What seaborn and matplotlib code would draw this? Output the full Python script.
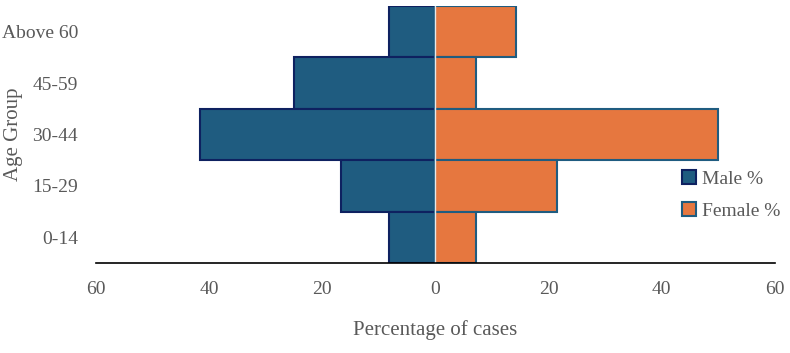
import pandas as pd
import numpy as np
import matplotlib.pyplot as plt
import seaborn as sns
from matplotlib.patches import Patch

sns.set_style('white')
plt.rcParams['font.family'] = ['Liberation Serif', 'DejaVu Serif']

# 연령대별 남녀 비율 데이터
age_groups = ['Above 60', '45-59', '30-44', '15-29', '0-14']
male_pct = [8.3, 25.0, 41.7, 16.7, 8.3]
female_pct = [14.3, 7.1, 50.0, 21.4, 7.1]

male_color = '#1F5C80'
male_edge = '#0E2160'
female_color = '#E6773F'
female_edge = '#1F5C80'
text_color = '#595959'

df = pd.DataFrame({'age': age_groups,
                   'male': [-v for v in male_pct],   # 남자는 왼쪽으로
                   'female': female_pct})

fig = plt.figure(figsize=(7.9, 3.53), dpi=100)
ax = fig.add_axes([0.1215, 0.255, 0.8595, 0.728])

sns.barplot(data=df, x='male', y='age', order=age_groups, orient='h',
            color=male_color, edgecolor=male_edge, linewidth=1.5,
            width=1, saturation=1, ax=ax)
sns.barplot(data=df, x='female', y='age', order=age_groups, orient='h',
            color=female_color, edgecolor=female_edge, linewidth=1.5,
            width=1, saturation=1, ax=ax)

ax.axvline(0, color='#e8e8e8', lw=1, zorder=5)

ax.set_xlim(-60, 60)
ax.set_ylim(4.5, -0.5)
ticks = np.arange(-60, 61, 20)
ax.set_xticks(ticks)
ax.set_xticklabels([str(abs(t)) for t in ticks])
ax.tick_params(axis='both', length=0, labelsize=14, colors=text_color)
ax.tick_params(axis='x', pad=13)
ax.tick_params(axis='y', pad=13)

for s in ['top', 'right', 'left']:
    ax.spines[s].set_visible(False)
ax.spines['bottom'].set_color('black')
ax.spines['bottom'].set_linewidth(1.2)
ax.spines['bottom'].set_zorder(6)

ax.set_xlabel('Percentage of cases', fontsize=15, color=text_color, labelpad=16)
ax.set_ylabel('Age Group', fontsize=15, color=text_color)
ax.yaxis.set_label_coords(-0.108, 0.5)

handles = [Patch(facecolor=male_color, edgecolor=male_edge, linewidth=1.5, label='Male %'),
           Patch(facecolor=female_color, edgecolor=female_edge, linewidth=1.5, label='Female %')]
leg = ax.legend(handles=handles, loc='center left', bbox_to_anchor=(0.852, 0.265),
                frameon=False, fontsize=14, handlelength=0.7, handleheight=0.7,
                handletextpad=0.3, labelspacing=0.75, borderaxespad=0)
for t in leg.get_texts():
    t.set_color(text_color)

fig.savefig('out.png', dpi=100)
